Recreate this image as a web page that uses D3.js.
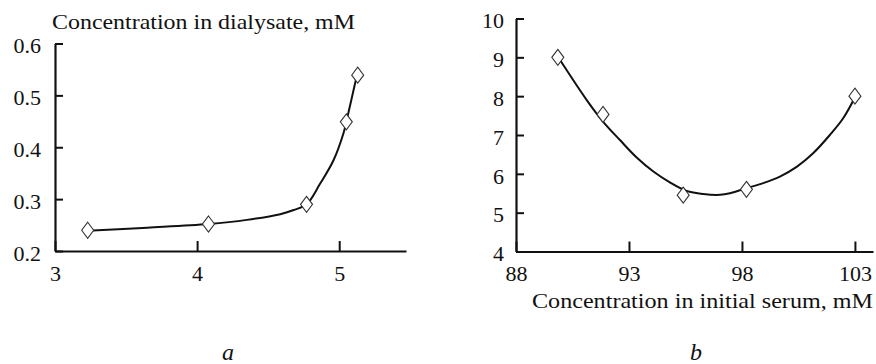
<!DOCTYPE html>
<html>
<head>
<meta charset="utf-8">
<script src="https://cdn.jsdelivr.net/npm/d3@7"></script>
<style>
  body { margin: 0; background: #fff; }
  svg text { font-family: 'Liberation Serif', 'DejaVu Serif', serif; fill: #111; }
</style>
</head>
<body>
<script>
let w = 876;
let h = 364;

// panel a
let aPointsX = [3.23, 4.08, 4.77, 5.05, 5.13];
let aPointsY = [0.24, 0.252, 0.29, 0.449, 0.539];
let aCurveX = [3.23, 3.65, 4.08, 4.35, 4.585, 4.68, 4.77, 4.866, 4.96, 5.03, 5.05, 5.09, 5.125];
let aCurveY = [0.239, 0.245, 0.252, 0.26, 0.271, 0.279, 0.29, 0.33, 0.375, 0.427, 0.449, 0.497, 0.539];
let aXTicks = [3, 4, 5];
let aYTicks = [0.2, 0.3, 0.4, 0.5, 0.6];

// panel b
let bPointsX = [89.85, 91.85, 95.4, 98.2, 103];
let bPointsY = [9.0, 7.53, 5.45, 5.6, 8.0];
let bCurveX = [89.85, 91.13, 91.86, 92.6, 93.34, 94.08, 94.81, 95.55, 96.29, 97.03, 97.47, 98.13, 98.94, 99.68, 100.42, 101.15, 101.89, 102.48, 103.02];
let bCurveY = [9.02, 7.9, 7.34, 6.87, 6.42, 6.06, 5.78, 5.56, 5.48, 5.46, 5.5, 5.62, 5.76, 5.93, 6.18, 6.53, 7.0, 7.43, 7.99];
let bXTicks = [88, 93, 98, 103];
let bYTicks = [4, 5, 6, 7, 8, 9, 10];

let serif = "'Liberation Serif', 'DejaVu Serif', serif";

let svg = d3.select('body')
  .append('svg')
  .attr('width', w)
  .attr('height', h);

let zip = (xs, ys) => xs.map((x, i) => [x, ys[i]]);

let drawPanel = (cfg) => {
  let x = d3.scaleLinear().domain(cfg.xDomain).range(cfg.xRange);
  let y = d3.scaleLinear().domain(cfg.yDomain).range(cfg.yRange);
  let g = svg.append('g');

  // ticks point inward
  let xAxis = d3.axisBottom(x)
    .tickValues(cfg.xTicks)
    .tickSize(-10)
    .tickSizeOuter(0)
    .tickPadding(14)
    .tickFormat(d3.format('d'));
  let yAxis = d3.axisLeft(y)
    .tickValues(cfg.yTicks)
    .tickSize(-8)
    .tickSizeOuter(0)
    .tickPadding(cfg.yPad)
    .tickFormat(cfg.yFormat);

  let gx = g.append('g')
    .attr('transform', `translate(0,${cfg.yRange[0]})`)
    .call(xAxis);
  let gy = g.append('g')
    .attr('transform', `translate(${cfg.xRange[0]},0)`)
    .call(yAxis);

  [gx, gy].forEach((ax) => {
    ax.attr('font-family', serif);
    ax.select('.domain').attr('stroke', '#111').attr('stroke-width', 2.2);
    ax.selectAll('.tick line').attr('stroke', '#111').attr('stroke-width', 2);
    ax.selectAll('.tick text')
      .attr('font-size', '22px')
      .attr('fill', '#111');
  });
  gy.selectAll('.tick text').attr('dy', '0.42em');
  gx.selectAll('.tick text').attr('dy', '0.71em');

  let line = d3.line()
    .x((d) => x(d[0]))
    .y((d) => y(d[1]))
    .curve(d3.curveCatmullRom.alpha(0.5));

  g.append('path')
    .datum(zip(cfg.curveX, cfg.curveY))
    .attr('d', line)
    .attr('fill', 'none')
    .attr('stroke', '#111')
    .attr('stroke-width', 2);

  // diamond markers
  g.selectAll('path.pt')
    .data(zip(cfg.pointsX, cfg.pointsY))
    .enter()
    .append('path')
    .attr('class', 'pt')
    .attr('d', (d) => {
      let cx = x(d[0]);
      let cy = y(d[1]);
      return `M${cx},${cy - 8}L${cx + 6},${cy}L${cx},${cy + 8}L${cx - 6},${cy}Z`;
    })
    .attr('fill', '#fff')
    .attr('stroke', '#333')
    .attr('stroke-width', 1.1);

  return g;
};

let ga = drawPanel({
  xDomain: [3, 5.47], xRange: [55, 406],
  yDomain: [0.2, 0.6], yRange: [251, 43.5], yPad: 14,
  xTicks: aXTicks, yTicks: aYTicks, yFormat: d3.format('.1f'),
  pointsX: aPointsX, pointsY: aPointsY, curveX: aCurveX, curveY: aCurveY
});

let gb = drawPanel({
  xDomain: [88, 103.8], xRange: [516, 873],
  yDomain: [4, 10], yRange: [251.5, 18.5], yPad: 12,
  xTicks: bXTicks, yTicks: bYTicks, yFormat: d3.format('d'),
  pointsX: bPointsX, pointsY: bPointsY, curveX: bCurveX, curveY: bCurveY
});

ga.append('text')
  .attr('x', 52)
  .attr('y', 29)
  .attr('font-size', '22px')
  .attr('textLength', 303)
  .attr('lengthAdjust', 'spacingAndGlyphs')
  .text('Concentration in dialysate, mM');

gb.append('text')
  .attr('x', 532)
  .attr('y', 308)
  .attr('font-size', '22px')
  .attr('textLength', 341)
  .attr('lengthAdjust', 'spacingAndGlyphs')
  .text('Concentration in initial serum, mM');

svg.append('text')
  .attr('x', 228)
  .attr('y', 360)
  .attr('text-anchor', 'middle')
  .attr('font-size', '24px')
  .attr('font-style', 'italic')
  .text('a');

svg.append('text')
  .attr('x', 696)
  .attr('y', 360)
  .attr('text-anchor', 'middle')
  .attr('font-size', '24px')
  .attr('font-style', 'italic')
  .text('b');
</script>
</body>
</html>
